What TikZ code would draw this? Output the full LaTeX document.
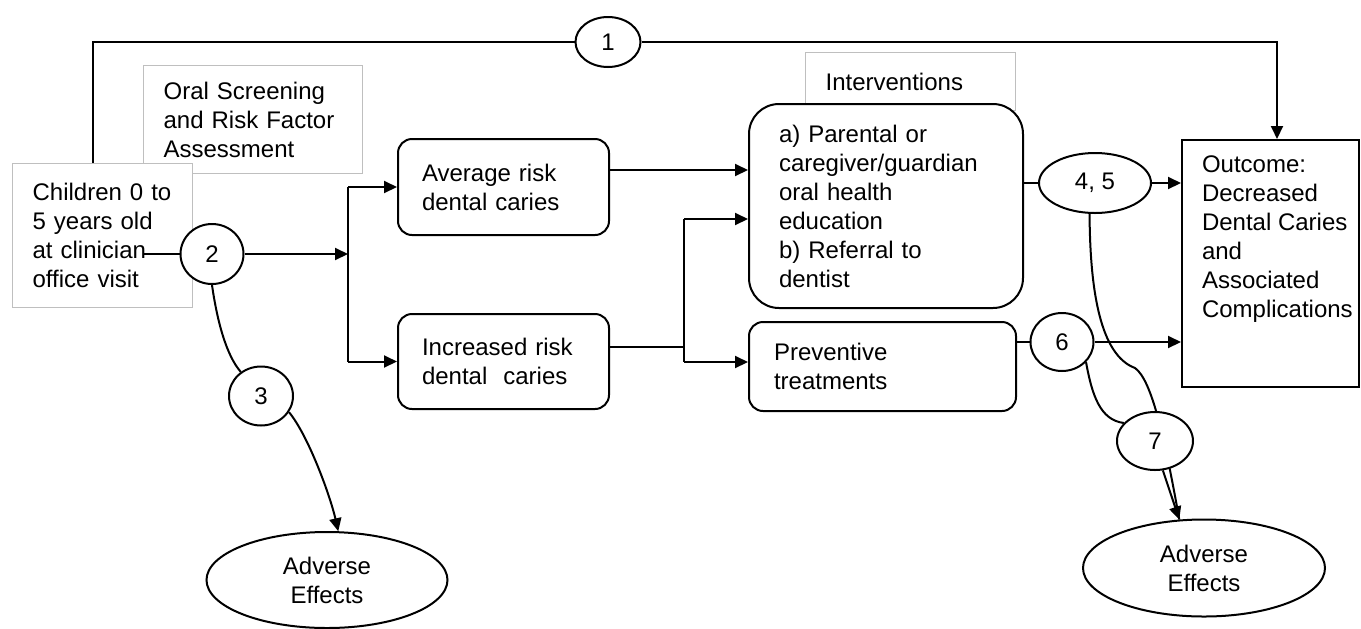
\documentclass[tikz,border=0pt]{standalone}
\usepackage{fontspec}
\setmainfont{Liberation Sans}
\usetikzlibrary{arrows.meta}
\usetikzlibrary{shapes.geometric}

\tikzset{
  txt/.style={font=\fontsize{12}{14.5}\selectfont},
  greybox/.style={txt, draw=black!25, line width=0.6pt, fill=white, align=left, anchor=north west, inner ysep=0pt},
  roundbox/.style={txt, draw, line width=1pt, fill=white, align=left, anchor=north west, rounded corners=7pt, inner ysep=0pt},
  numnode/.style={txt, draw, ellipse, line width=1pt, fill=white, inner sep=0pt, align=center},
  conn/.style={line width=1pt},
  arr/.style={conn, -{Triangle[length=6.5pt,width=6pt]}}
}

\begin{document}
\begin{tikzpicture}[x=0.5pt, y=-0.5pt]
	\useasboundingbox (0,0) rectangle (1361,628);

	% boxes
	\node[greybox, inner xsep=10pt, text width=89.5pt, minimum height=54pt] (oral) at (143,65) {Oral Screening\\and Risk Factor\\Assessment};
	\node[greybox, inner xsep=10pt, text width=70pt, minimum height=72pt] (child) at (12,163) {Children 0 to\\5 years old\\at clinician\\office visit};
	\node[roundbox, inner xsep=12pt, text width=81.5pt, minimum height=48pt] (avg) at (397,138) {Average risk\\dental caries};
	\node[roundbox, inner xsep=12pt, text width=81.5pt, minimum height=47.5pt] (inc) at (397,313) {Increased risk\\dental~~caries};
	\node[greybox, inner xsep=10pt, text width=85pt, minimum height=29pt] (intvlab) at (805,52) {Interventions};
	\node[roundbox, rounded corners=15pt, inner xsep=15pt, text width=107pt, minimum height=102pt] (intv) at (748,103) {a) Parental or\\caregiver/guardian\\oral health\\education\\b) Referral to\\dentist};
	\node[roundbox, inner xsep=12.5pt, text width=108.5pt, minimum height=44.5pt] (prev) at (748,321) {Preventive\\treatments};
	\node[txt, draw, line width=1pt, anchor=north west, inner xsep=0pt, inner ysep=8pt] (out) at (1181,139) {\parbox[c][107.5pt][t]{88.5pt}{\leftskip=10pt Outcome:\\Decreased\\Dental Caries\\and\\Associated\\Complications}};

	% numbered key questions
	\node[numnode, minimum width=32.5pt, minimum height=25pt] (c1) at (608,42) {1};
	\node[numnode, minimum width=31.5pt, minimum height=30pt] (c2) at (212,254) {2};
	\node[numnode, minimum width=32pt, minimum height=29.5pt] (c3) at (261,396) {3};
	\node[numnode, minimum width=56pt, minimum height=30pt] (c45) at (1095,183) {4, 5};
	\node[numnode, minimum width=31.5pt, minimum height=29pt] (c6) at (1062,342) {6};
	\node[numnode, minimum width=120.5pt, minimum height=48pt] (ae1) at (327,580) {Adverse\\Effects};
	\node[numnode, minimum width=121pt, minimum height=48.5pt] (ae2) at (1204,568) {Adverse\\Effects};

	% harms of interventions, runs behind 7
	\draw[conn] (c45.260) .. controls (1090,290) and (1100,355) .. (1135,368) .. controls (1152,380) and (1165,440) .. (ae2.117);
	\node[numnode, minimum width=38pt, minimum height=29pt] (c7) at (1155,441) {7};

	% overarching path
	\coordinate (topL) at (93,42);
	\coordinate (topR) at (1277,42);
	\draw[conn] (topL |- child.north) -- (topL) -- (c1);
	\draw[arr] (c1) -- (topR) -- (topR |- out.north);

	% screening
	\coordinate (clin) at (144,254);
	\coordinate (j1) at (348,254);
	\draw[conn] (clin) -- (c2);
	\draw[arr] (c2) -- (j1);
	\draw[conn] (j1 |- avg.west) -- (j1 |- inc.west);
	\draw[arr] (j1 |- avg.west) -- (avg.west);
	\draw[arr] (j1 |- inc.west) -- (inc.west);

	% to interventions
	\coordinate (avgin) at (748,170);
	\coordinate (j2) at (684,347);
	\coordinate (j2a) at (684,219);
	\coordinate (j2b) at (684,362);
	\draw[arr] (avg.east |- avgin) -- (avgin);
	\draw[conn] (inc.east |- j2) -- (j2);
	\draw[conn] (j2a) -- (j2b);
	\draw[arr] (j2a) -- (j2a -| intv.west);
	\draw[arr] (j2b) -- (j2b -| prev.west);

	% to outcome
	\draw[conn] (intv.east |- c45) -- (c45);
	\draw[arr] (c45) -- (c45 -| out.west);
	\draw[conn] (prev.east |- c6) -- (c6);
	\draw[arr] (c6) -- (c6 -| out.west);

	% adverse effects
	\draw[conn] (c2.south) .. controls (217,320) and (226,355) .. (c3.130);
	\draw[arr] (c3.-30) .. controls (308,435) and (330,495) .. (ae1.77);
	\draw[conn] (c6.-40) .. controls (1092,395) and (1100,420) .. (c7.150);
	\draw[arr] (c7.-75) -- (ae2.117);
\end{tikzpicture}
\end{document}
